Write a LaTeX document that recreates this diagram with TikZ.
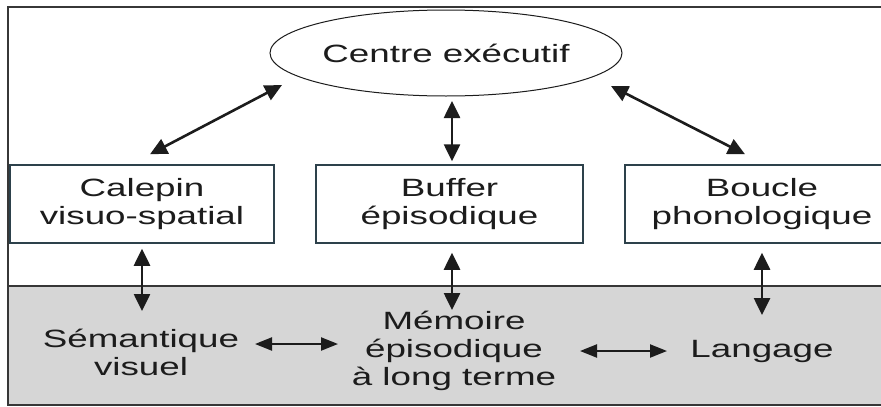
\documentclass[tikz,border=0pt]{standalone}
\usepackage{fontspec}
\setmainfont[FakeStretch=1.47]{Liberation Sans}
\usetikzlibrary{arrows.meta,calc,shapes.geometric}
\definecolor{framecol}{RGB}{55,55,55}
\definecolor{boxcol}{RGB}{45,65,75}
\definecolor{bandcol}{RGB}{214,214,214}
\definecolor{txtcol}{RGB}{28,28,28}
\begin{document}
\begin{tikzpicture}[x=1pt,y=-1pt,
  lbl/.style={font=\fontsize{25}{28}\selectfont, align=center, text=txtcol, inner sep=0pt},
  boxx/.style={draw=boxcol, line width=1.5pt, fill=white, minimum height=78pt, inner sep=0pt},
  arr/.style={line width=2.6pt, draw=txtcol, {Triangle[length=17pt,width=16pt]}-{Triangle[length=17pt,width=16pt]}},
  harr/.style={line width=2.2pt, draw=txtcol, {Triangle[length=17pt,width=13pt]}-{Triangle[length=17pt,width=13pt]}},
]
\useasboundingbox (0,0) rectangle (881,407);
\clip (0,0) rectangle (881,407);
\fill[white] (0,0) rectangle (881,407);
% frame and band
\draw[draw=framecol, line width=2pt] (8,7) rectangle (900,405);
\filldraw[fill=bandcol, draw=framecol, line width=1.5pt] (8,286) rectangle (900,405);
% nodes
\node[ellipse, draw=txtcol, line width=1pt, minimum width=352pt, minimum height=86pt, lbl] (ce) at (446,53) {Centre exécutif};
\node[boxx, lbl, minimum width=264pt] (cal) at (142,204) {Calepin\\visuo-spatial};
\node[boxx, lbl, minimum width=267pt] (buf) at (449.5,204) {Buffer\\épisodique};
\node[boxx, lbl, minimum width=274pt] (bou) at (762,204) {Boucle\\phonologique};
\node[lbl] (sem) at (141,352) {Sémantique\\visuel};
\node[lbl] (mem) at (454,351) {Mémoire\\épisodique\\à long terme};
\node[lbl] (lang) at (762,351) {Langage};
% connectors
\draw[arr] ($(cal.north)+(8,-10)$) -- ($(ce.center)+(-164,32)$);
\draw[arr] ($(ce.center)+(6,48)$) -- ($(buf.north)+(2.5,-3)$);
\draw[arr] ($(ce.center)+(165,33)$) -- ($(bou.north)+(-17,-10)$);
\draw[arr] ($(cal.south)+(0,5)$) -- ($(sem.center)+(1,-41)$);
\draw[arr] ($(buf.south)+(2.5,9)$) -- ($(mem.center)+(-2,-41)$);
\draw[arr] ($(bou.south)+(0,9)$) -- ($(lang.center)+(0,-36)$);
\draw[harr] ($(sem.center)+(114,-8)$) -- ($(mem.center)+(-116,-7)$);
\draw[harr] ($(mem.center)+(126,0)$) -- ($(lang.center)+(-95,0)$);
\end{tikzpicture}
\end{document}
